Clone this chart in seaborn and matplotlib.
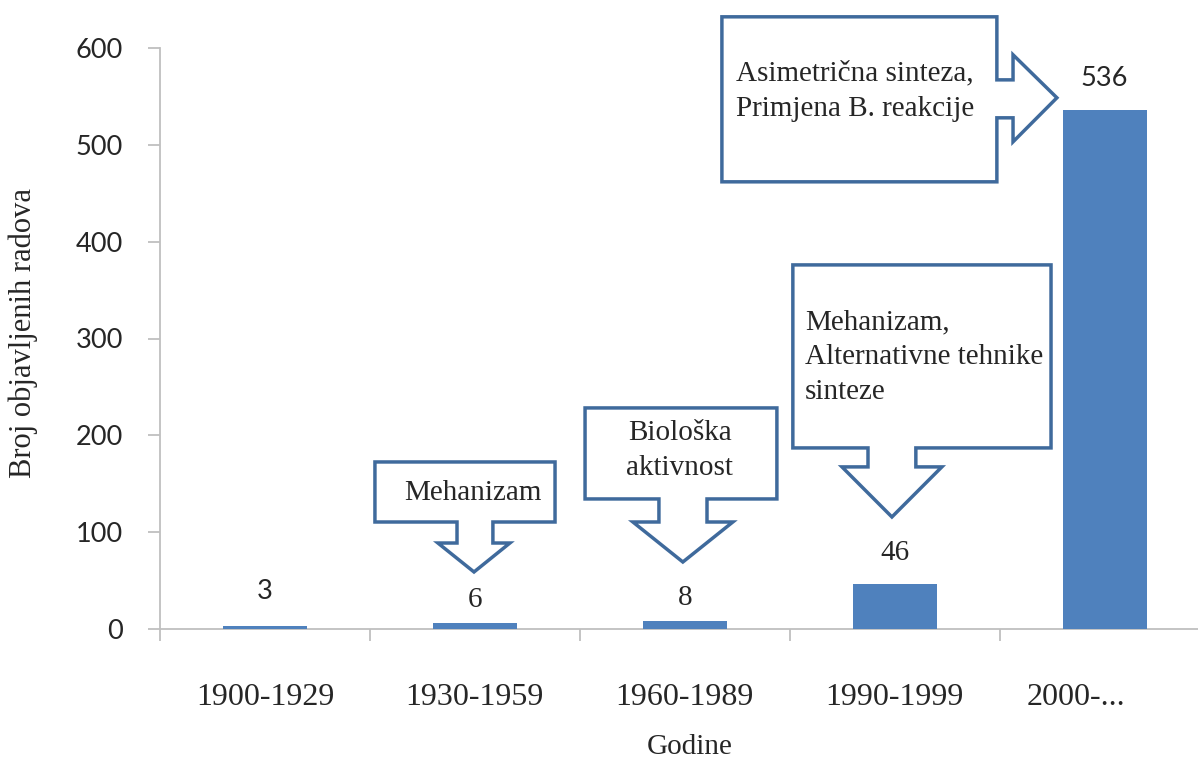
import matplotlib
matplotlib.use('Agg')
import matplotlib.pyplot as plt
import seaborn as sns
from matplotlib.patches import Polygon
from matplotlib.transforms import ScaledTranslation

# podaci
razdoblja = ['1900-1929', '1930-1959', '1960-1989', '1990-1999', '2000-...']
broj_radova = [3, 6, 8, 46, 536]
oznake_serif = [False, True, True, True, False]   # koje oznake su u serif fontu
pomak_oznaka = [36, 24, 24, 32, 33]              # koliko iznad stupca

natpisi = ['Mehanizam', 'Biološka\naktivnost',
           'Mehanizam,\nAlternativne tehnike\nsinteze',
           'Asimetrična sinteza,\nPrimjena B. reakcije']

sns.set_style('white')
plt.rcParams['font.family'] = ['Liberation Serif', 'DejaVu Serif']

SERIF = 'Liberation Serif'
SANS = 'Lato'
PLAVA = '#4F81BD'
RUB = '#3F6A9C'
SIVA = '#BFBFBF'

fig = plt.figure(figsize=(11.98, 7.58), dpi=100)
# os ide malo preko desnog ruba slike (kao u originalu)
ax = fig.add_axes([160 / 1198, 129 / 758, 1049.5 / 1198, 581 / 758])

# stupci iznad sive osi da se vidi i onaj najtanji
sns.barplot(x=razdoblja, y=broj_radova, color=PLAVA, saturation=1, width=0.4,
            linewidth=0, ax=ax, zorder=2.6)

ax.set_ylim(0, 600)
ax.set_yticks(range(0, 601, 100))
ax.set_yticklabels([str(v) for v in range(0, 601, 100)], fontfamily=SANS, fontsize=19.5)

for s in ['top', 'right']:
    ax.spines[s].set_visible(False)
for s in ['left', 'bottom']:
    ax.spines[s].set_color(SIVA)
    ax.spines[s].set_linewidth(1.3)

ax.tick_params(axis='y', length=8.6, width=1.3, color=SIVA, pad=18, left=True)
ax.set_xticks([i - 0.5 for i in range(6)], minor=True)
ax.tick_params(axis='x', which='minor', length=8.6, width=1.3, color=SIVA, bottom=True)
ax.tick_params(axis='x', which='major', length=0, pad=39, labelsize=23)
for lbl in ax.get_xticklabels():
    lbl.set_fontfamily(SERIF)
zadnja = ax.get_xticklabels()[-1]
zadnja.set_transform(zadnja.get_transform() + ScaledTranslation(-29 / 100, 0, fig.dpi_scale_trans))

ax.set_ylabel('Broj objavljenih radova', fontfamily=SERIF, fontsize=22)
ax.yaxis.set_label_coords(-0.116, 0.51)
ax.set_xlabel('Godine', fontfamily=SERIF, fontsize=21)
ax.xaxis.set_label_coords(0.505, -0.18)

# oznake vrijednosti
for i, v in enumerate(broj_radova):
    fam = SERIF if oznake_serif[i] else SANS
    vel = 21 if oznake_serif[i] else 19.5
    ax.text(i, v + pomak_oznaka[i], str(v), ha='center', va='center',
            fontfamily=fam, fontsize=vel, zorder=4)


def oblacic_dolje(x0, x1, y0, y1, s0, s1, vrat, h0, h1, tx, ty):
    pts = [(x0, y1), (x1, y1), (x1, y0), (s1, y0), (s1, vrat), (h1, vrat),
           (tx, ty), (h0, vrat), (s0, vrat), (s0, y0), (x0, y0)]
    ax.add_patch(Polygon(pts, closed=True, fc='white', ec=RUB, lw=2.5,
                         clip_on=False, zorder=3, joinstyle='miter'))


def oblacic_desno(x0, x1, y0, y1, s0, s1, vrat, h0, h1, tx, ty):
    pts = [(x0, y1), (x1, y1), (x1, s1), (vrat, s1), (vrat, h1), (tx, ty),
           (vrat, h0), (vrat, s0), (x1, s0), (x1, y0), (x0, y0)]
    ax.add_patch(Polygon(pts, closed=True, fc='white', ec=RUB, lw=2.5,
                         clip_on=False, zorder=3, joinstyle='miter'))


oblacic_dolje(0.524, 1.382, 110.5, 172.5, 0.915, 1.086, 88.8, 0.824, 1.167, 0.996, 58.9)
oblacic_dolje(1.525, 2.439, 134.3, 228.3, 1.877, 2.106, 110.5, 1.753, 2.229, 1.991, 69.2)
oblacic_dolje(2.515, 3.745, 187.0, 376.0, 2.873, 3.101, 167.4, 2.749, 3.225, 2.987, 115.7)
oblacic_desno(2.177, 3.487, 461.8, 632.2, 527.9, 567.1, 3.564, 503.1, 593.0, 3.773, 548.6)

ax.text(0.991, 140.5, natpisi[0], ha='center', va='center', fontsize=21, zorder=4)
ax.text(1.977, 183.9, natpisi[1], ha='center', va='center', fontsize=21,
        linespacing=1.45, zorder=4)
ax.text(2.573, 281.0, natpisi[2], ha='left', va='center', fontsize=21,
        linespacing=1.45, zorder=4)
ax.text(2.244, 555.3, natpisi[3], ha='left', va='center', fontsize=21,
        linespacing=1.45, zorder=4, clip_on=False)

ax.set_xlim(-0.5, 4.5)

fig.savefig('out.png', dpi=100)
